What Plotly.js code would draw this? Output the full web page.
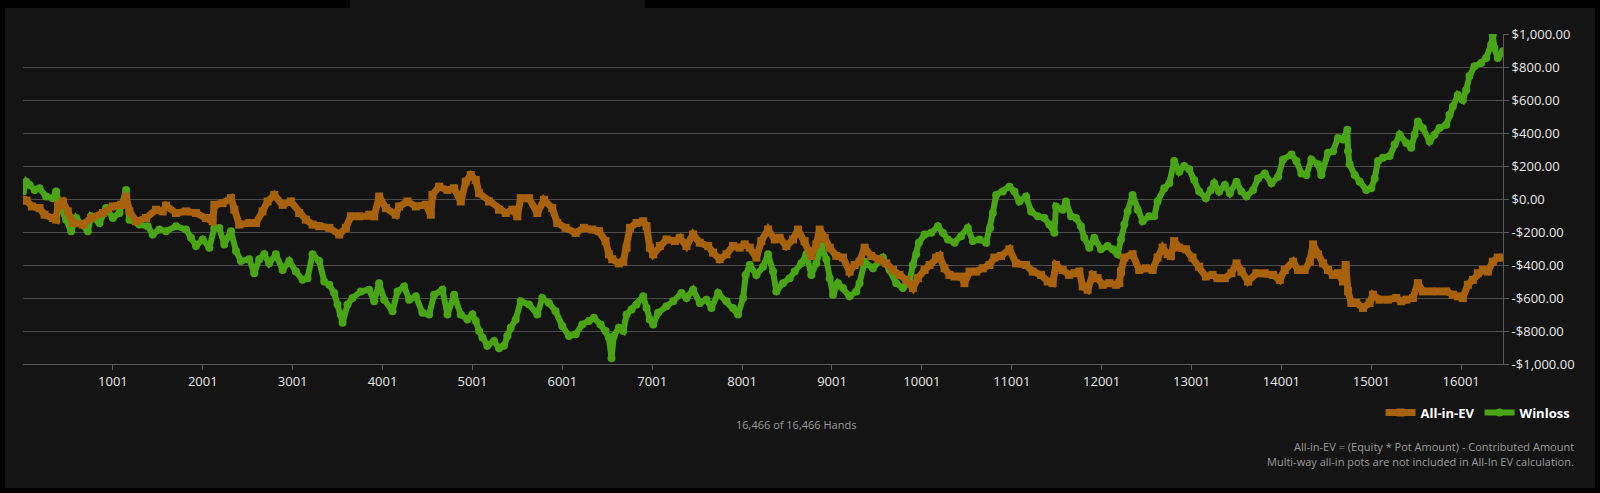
<!DOCTYPE html>
<html>
<head>
<meta charset="utf-8">
<script src="https://cdn.plot.ly/plotly-3.0.1.min.js"></script>
<style>
  html, body { margin: 0; padding: 0; background: #000; width: 1600px; height: 493px; overflow: hidden; }
  #tab { position: absolute; left: 350px; top: 0; width: 295px; height: 8px; background: #141414; }
  #panel { position: absolute; left: 5px; top: 8px; width: 1590px; height: 480px; background: #141414; }
  #chart { position: absolute; left: 0; top: 0; width: 1600px; height: 493px; }
</style>
</head>
<body>
<div id="tab"></div>
<div id="panel"></div>
<div id="chart"></div>
<script>
// ---- Data ----
const aievHands = [1,40,100,185,240,333,370,390,444,500,555,666,760,889,1000,1092,1148,1185,1259,1370,1481,1555,1592,1703,1814,1926,2037,2111,2130,2222,2315,2352,2407,2518,2592,2666,2722,2796,2889,2981,3074,3148,3222,3296,
3408,3519,3593,3648,3741,3852,3908,3963,4038,4149,4186,4279,4371,4482,4538,4556,4630,4723,4797,4871,4927,4982,5038,5075,5186,5297,5371,5445,5500,5538,5630,5723,5797,5889,5945,6038,6149,6241,6334,6408,6482,6519,6556,6630,
6679,6716,6753,6827,6901,6938,6975,7012,7086,7160,7253,7308,7382,7456,7530,7623,7678,7752,7827,7900,7975,8030,8086,8160,8215,8290,8364,8419,8493,8568,8623,8697,8771,8827,8864,8919,8975,9049,9123,9197,9253,9308,9364,9438,9530,9605,9679,9753,9827,9901,9956,
10031,10086,10160,10197,10253,10308,10364,10438,10475,10531,10605,10679,10753,10808,10882,10975,11049,11160,11234,11327,11401,11456,11493,11567,11640,11697,11753,11790,11845,11901,11956,12012,12086,12160,12197,12216,12253,12345,12419,12493,12568,12623,12679,12734,12771,12808,12864,12938,13012,13086,13160,13234,13290,
13371,13445,13501,13556,13630,13723,13815,13908,13982,14038,14131,14186,14260,14316,14353,14408,14464,14519,14575,14630,14686,14716,14742,14779,14834,14908,14982,15019,15093,15186,15279,15334,15390,15464,15519,15575,15667,15741,15834,15908,15964,16019,16075,16130,16186,16241,16297,16352,16408,16466];
const aievValues = [-5,-10,-45,-55,-95,-115,-125,-35,-15,-75,-145,-155,-115,-85,-45,-35,15,-75,-135,-115,-65,-75,-40,-85,-75,-85,-115,-135,-35,-25,5,-65,-155,-145,-145,-75,-15,25,-35,-15,-85,-125,-155,-165,
-175,-215,-175,-105,-105,-95,-105,15,-55,-95,-45,-15,-45,-35,-95,25,75,55,65,-15,105,145,115,35,-15,-65,-85,-65,-105,5,5,-85,-5,-55,-145,-175,-205,-175,-185,-195,-255,-335,-365,-390,
-380,-295,-175,-145,-135,-165,-295,-335,-285,-245,-255,-235,-285,-215,-265,-285,-325,-365,-335,-285,-295,-275,-295,-355,-255,-185,-245,-235,-285,-245,-185,-255,-345,-275,-185,-235,-295,-345,-355,-440,-400,-380,-295,-345,-365,-390,-430,-460,-490,-540,-480,
-430,-400,-355,-345,-420,-460,-470,-470,-510,-440,-440,-420,-400,-355,-345,-305,-390,-400,-440,-460,-500,-510,-400,-430,-460,-450,-440,-530,-550,-460,-480,-520,-510,-520,-510,-440,-355,-335,-430,-420,-430,-355,-295,-335,-345,-255,-295,-305,-355,-410,-470,-460,-480,
-480,-450,-390,-440,-500,-450,-450,-460,-490,-430,-380,-430,-430,-380,-275,-335,-390,-430,-460,-450,-500,-400,-560,-630,-630,-660,-630,-580,-610,-610,-600,-620,-610,-600,-510,-560,-560,-560,-560,-580,-590,-600,-520,-490,-450,-430,-440,-380,-355,-355];

const winlossHands = [1,37,74,130,185,259,333,370,407,481,537,592,666,722,759,852,926,1000,1074,1148,1185,1296,1389,1444,1518,1592,1703,1814,1870,1926,2000,2074,2129,2185,2240,2315,2370,2426,2518,2574,2629,2685,2740,2814,2889,2963,3037,3111,3166,3222,3296,
3352,3408,3463,3500,3537,3556,3611,3667,3760,3852,3908,3963,4019,4112,4167,4241,4297,4371,4445,4519,4575,4667,4723,4797,4871,4945,5000,5038,5075,5112,5167,5241,5297,5352,5389,5426,5482,5538,5630,5723,5778,5852,5926,6000,6075,6149,6223,6297,6352,6426,6482,6519,6548,6574,6630,
6679,6716,6771,6827,6901,6938,6975,7012,7067,7160,7234,7327,7382,7456,7530,7604,7660,7734,7827,7900,7956,8012,8041,8086,8160,8234,8290,8345,8382,8456,8530,8586,8660,8716,8771,8827,8882,8938,8975,9012,9067,9123,9197,9271,9308,9364,9456,9567,9642,9716,9790,9864,9901,9938,9967,
10031,10105,10179,10234,10290,10364,10438,10512,10568,10642,10716,10760,10790,10827,10901,10975,11031,11086,11160,11216,11290,11364,11419,11475,11493,11567,11604,11660,11716,11771,11808,11864,11919,11993,12067,12123,12179,12216,12253,12290,12345,12401,12456,12530,12586,12623,12697,12753,12808,12864,12919,12975,13031,13086,13160,13216,13253,13308,
13371,13427,13501,13556,13612,13686,13741,13815,13890,13964,14019,14112,14167,14223,14279,14334,14408,14445,14519,14575,14630,14686,14734,14742,14760,14816,14871,14945,15001,15038,15075,15130,15205,15260,15316,15390,15445,15482,15519,15575,15649,15704,15760,15834,15871,15908,15964,16019,16056,16093,16149,16223,16278,16334,16352,16371,16408,16466];
const winlossValues = [45,105,85,55,65,15,5,45,-35,-125,-195,-115,-155,-195,-105,-145,-55,-115,-85,55,-125,-155,-165,-215,-185,-195,-165,-185,-235,-285,-245,-295,-175,-175,-275,-195,-315,-375,-365,-450,-365,-335,-390,-335,-430,-375,-440,-490,-480,-335,-375,
-500,-520,-570,-640,-700,-750,-640,-600,-560,-550,-620,-510,-610,-680,-560,-530,-610,-590,-690,-700,-580,-550,-700,-580,-700,-730,-700,-740,-800,-840,-890,-860,-905,-890,-830,-780,-730,-620,-640,-700,-600,-630,-680,-770,-830,-820,-760,-740,-720,-760,-800,-840,-965,-830,-780,
-800,-700,-670,-640,-590,-660,-730,-760,-690,-650,-620,-570,-600,-550,-630,-610,-660,-570,-620,-660,-700,-600,-460,-400,-460,-410,-335,-440,-560,-510,-480,-440,-390,-335,-460,-390,-285,-365,-480,-580,-510,-540,-590,-560,-510,-380,-420,-355,-430,-510,-540,-500,-400,-335,-265,
-215,-205,-165,-205,-245,-265,-225,-175,-255,-245,-265,-175,-85,25,45,75,45,-15,15,-75,-105,-115,-155,-205,-45,-65,-15,-105,-115,-165,-235,-295,-235,-305,-285,-305,-335,-245,-155,-75,25,-65,-135,-105,-105,-15,65,95,230,165,200,180,115,45,5,55,95,45,
85,35,105,45,15,55,125,155,95,135,240,270,230,155,145,240,210,145,280,290,370,360,420,290,210,145,105,55,65,125,230,250,260,330,390,340,310,390,470,430,350,390,430,450,510,560,630,600,660,745,805,825,855,935,995,915,855,895];

const xTickVals = [1001,2001,3001,4001,5001,6001,7001,8001,9001,10001,11001,12001,13001,14001,15001,16001];
const yTickVals = [1000,800,600,400,200,0,-200,-400,-600,-800,-1000];
const yTickText = ['$1,000.00','$800.00','$600.00','$400.00','$200.00','$0.00','-$200.00','-$400.00','-$600.00','-$800.00','-$1,000.00'];
const seriesNames = ['All-in-EV','Winloss'];
const handsNote = '16,466 of 16,466 Hands';
const footnote1 = 'All-in-EV = (Equity * Pot Amount) - Contributed Amount';
const footnote2 = 'Multi-way all-in pots are not included in All-In EV calculation.';

const ORANGE = '#a8620e';
const GREEN = '#4aa516';
const FONT = '"Open Sans", "DejaVu Sans", sans-serif';

const traces = [
  {
    type: 'scatter', mode: 'lines+markers', name: seriesNames[1],
    x: winlossHands, y: winlossValues,
    line: { color: GREEN, width: 6 },
    marker: { color: GREEN, size: 8, symbol: 'circle' }
  },
  {
    type: 'scatter', mode: 'lines+markers', name: seriesNames[0],
    x: aievHands, y: aievValues,
    line: { color: ORANGE, width: 7 },
    marker: { color: ORANGE, size: 8, symbol: 'square' }
  }
];

const layout = {
  width: 1600, height: 493,
  margin: { l: 23, r: 97, t: 34, b: 129, pad: 0 },
  paper_bgcolor: 'rgba(0,0,0,0)',
  plot_bgcolor: 'rgba(0,0,0,0)',
  font: { family: FONT, color: '#e8e8e8', size: 13 },
  showlegend: true,
  legend: {
    orientation: 'h', traceorder: 'reversed',
    x: 1.049, xanchor: 'right', y: -0.147, yanchor: 'middle',
    font: { family: FONT, size: 13, color: '#ffffff', weight: 'bold' },
    bgcolor: 'rgba(0,0,0,0)', itemwidth: 30
  },
  xaxis: {
    range: [1, 16466], tickmode: 'array', tickvals: xTickVals, tickformat: 'd',
    showgrid: false, zeroline: false,
    showline: true, linecolor: '#5a5a5a', linewidth: 1,
    ticks: 'outside', ticklen: 5, tickcolor: '#5a5a5a',
    tickfont: { family: FONT, size: 13, color: '#e8e8e8' }
  },
  yaxis: {
    side: 'right', range: [-1000, 1000],
    tickmode: 'array', tickvals: yTickVals, ticktext: yTickText,
    showgrid: true, gridcolor: '#4c4c4c', gridwidth: 1,
    zeroline: false,
    showline: true, linecolor: '#5a5a5a', linewidth: 1,
    ticks: 'outside', ticklen: 5, tickcolor: '#5a5a5a',
    tickfont: { family: FONT, size: 13, color: '#e8e8e8' }
  },
  annotations: [
    { text: handsNote, xref: 'paper', yref: 'paper', x: 0.522, y: -0.1836,
      xanchor: 'center', yanchor: 'middle', showarrow: false,
      font: { family: FONT, size: 11, color: '#9a9a9a' } },
    { text: footnote1, xref: 'paper', yref: 'paper', x: 1.049, y: -0.2504,
      xanchor: 'right', yanchor: 'middle', showarrow: false,
      font: { family: FONT, size: 11, color: '#9a9a9a' } },
    { text: footnote2, xref: 'paper', yref: 'paper', x: 1.049, y: -0.296,
      xanchor: 'right', yanchor: 'middle', showarrow: false,
      font: { family: FONT, size: 11, color: '#9a9a9a' } }
  ]
};

Plotly.newPlot('chart', traces, layout, { displayModeBar: false, staticPlot: true });
</script>
</body>
</html>
